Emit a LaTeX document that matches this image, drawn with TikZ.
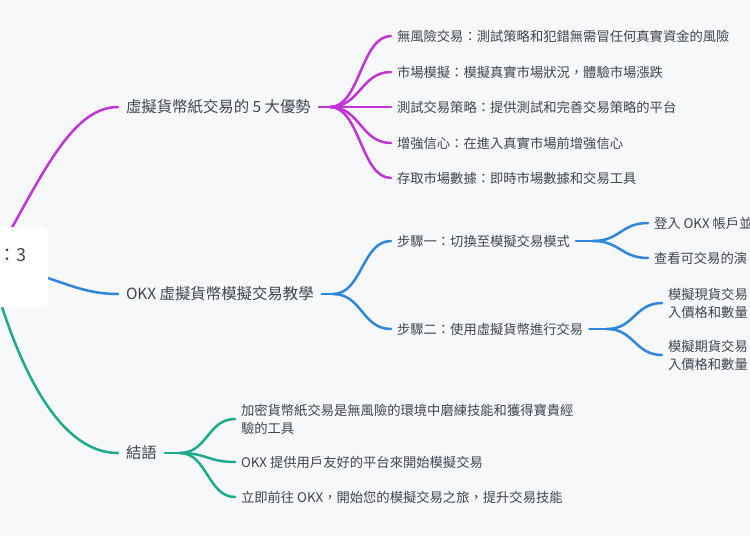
\documentclass[tikz,border=0pt]{standalone}
\usepackage{fontspec}
\setmainfont{Noto Sans CJK TC}
\definecolor{bg}{HTML}{F7F8FA}
\definecolor{ink}{HTML}{3F4450}
\definecolor{cpur}{HTML}{C034D6}
\definecolor{cblu}{HTML}{2F86DC}
\definecolor{cteal}{HTML}{1FA98E}
\begin{document}
\begin{tikzpicture}[x=1pt,y=-1pt,
  txt/.style={text=ink, inner sep=0pt, outer xsep=6pt, anchor=west, font=\fontsize{13.3}{18}\selectfont, align=left},
  lvl/.style={text=ink, inner sep=0pt, outer xsep=8pt, anchor=west, font=\fontsize{15.4}{20}\selectfont},
  lnk/.style={line width=2.5pt, line cap=round},
  pur/.style={lnk, draw=cpur},
  blu/.style={lnk, draw=cblu},
  tea/.style={lnk, draw=cteal}]
\fill[bg] (0,0) rectangle (750,536);
\useasboundingbox (0,0) rectangle (750,536);

\coordinate (rootc) at (-10,267);

% branch 1
\node[lvl] (b1) at (118,107) {虛擬貨幣紙交易的 5 大優勢};
\coordinate (j1) at (330,107);
\node[txt] (p1) at (391,36) {無風險交易：測試策略和犯錯無需冒任何真實資金的風險};
\node[txt] (p2) at (391,72) {市場模擬：模擬真實市場狀況，體驗市場漲跌};
\node[txt] (p3) at (391,107) {測試交易策略：提供測試和完善交易策略的平台};
\node[txt] (p4) at (391,143) {增強信心：在進入真實市場前增強信心};
\node[txt] (p5) at (391,178) {存取市場數據：即時市場數據和交易工具};

% branch 2
\node[lvl] (b2) at (118,294) {OKX 虛擬貨幣模擬交易教學};
\coordinate (j2) at (333,294);
\node[txt] (s1) at (391,241) {步驟一：切換至模擬交易模式};
\coordinate (j3) at (593,241);
\node[txt] (s11) at (648,223) {登入 OKX 帳戶並};
\node[txt] (s12) at (648,258) {查看可交易的演};
\node[txt] (s2) at (391,329) {步驟二：使用虛擬貨幣進行交易};
\coordinate (j4) at (607,329);
\node[txt] (s21) at (662,303) {模擬現貨交易\\入價格和數量，};
\node[txt] (s22) at (662,355) {模擬期貨交易\\入價格和數量，};

% branch 3
\node[lvl] (b3) at (118,453) {結語};
\coordinate (j5) at (180,453);
\node[txt] (t1) at (235,419) {加密貨幣紙交易是無風險的環境中磨練技能和獲得寶貴經\\驗的工具};
\node[txt] (t2) at (235,462) {OKX 提供用戶友好的平台來開始模擬交易};
\node[txt] (t3) at (235,497) {立即前往 OKX，開始您的模擬交易之旅，提升交易技能};

% connectors
\draw[pur] (rootc) .. controls (40,180) and (70,107) .. (b1.west);
\draw[pur] (b1.east) -- (j1);
\foreach \n in {p1,p2,p3,p4,p5} \draw[pur] (j1) .. controls +(30,0) and +(-30,0) .. (\n.west);

\draw[blu] (rootc) .. controls (50,270) and (70,294) .. (b2.west);
\draw[blu] (b2.east) -- (j2);
\foreach \n in {s1,s2} \draw[blu] (j2) .. controls +(29,0) and +(-29,0) .. (\n.west);
\draw[blu] (s1.east) -- (j3);
\foreach \n in {s11,s12} \draw[blu] (j3) .. controls +(27,0) and +(-27,0) .. (\n.west);
\draw[blu] (s2.east) -- (j4);
\foreach \n in {s21,s22} \draw[blu] (j4) .. controls +(27,0) and +(-27,0) .. (\n.west);

\draw[tea] (rootc) .. controls (10,340) and (50,453) .. (b3.west);
\draw[tea] (b3.east) -- (j5);
\foreach \n in {t1,t2,t3} \draw[tea] (j5) .. controls +(27,0) and +(-27,0) .. (\n.west);

% root
\node[fill=white, rounded corners=6pt, minimum width=120pt, minimum height=80pt, inner sep=0pt] (root) at (-12,267) {};
\node[text=ink, font=\fontsize{18}{22}\selectfont, inner sep=0pt, anchor=west] (roottxt) at (-2,255) {：3};
\end{tikzpicture}
\end{document}
